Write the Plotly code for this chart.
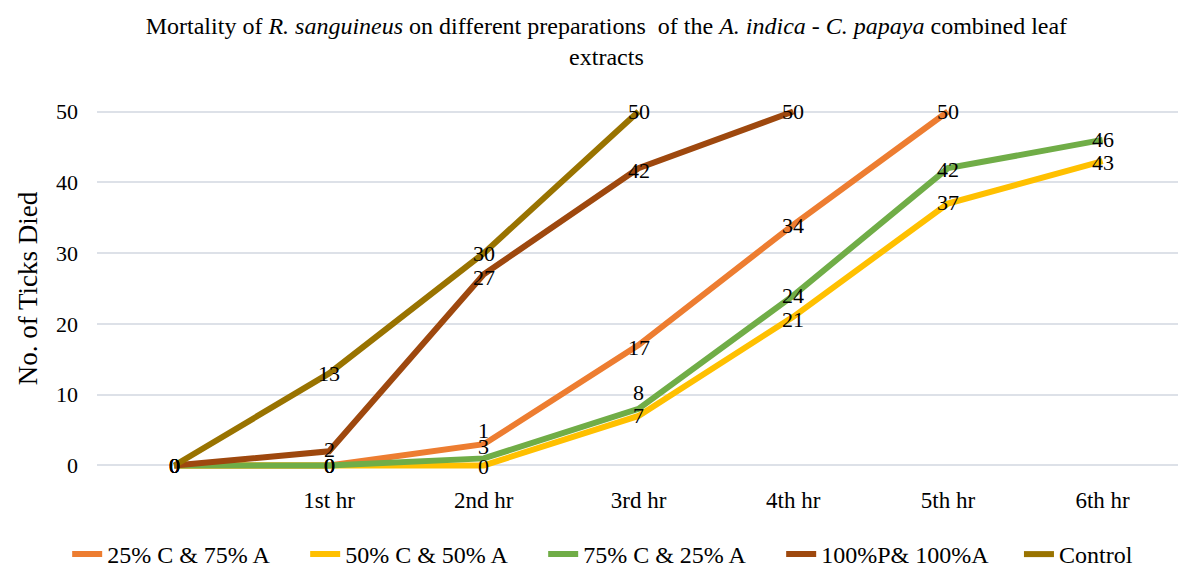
import plotly.graph_objects as go

categories = ["", "1st hr", "2nd hr", "3rd hr", "4th hr", "5th hr", "6th hr"]

series_names = ["25% C & 75% A", "50% C & 50% A", "75% C & 25% A", "100%P& 100%A", "Control"]
s25 = [0, 0, 3, 17, 34, 50]
s50 = [0, 0, 0, 7, 21, 37, 43]
s75 = [0, 0, 1, 8, 24, 42, 46]
s100 = [0, 2, 27, 42, 50]
control = [0, 13, 30, 50]
series_values = [s25, s50, s75, s100, control]

colors = ["#ED7D31", "#FFC000", "#70AD47", "#9E480E", "#997300"]
legend_ids = ["legend", "legend", "legend", "legend", "legend2"]
# label vertical pixel shifts (styling only)
label_shifts = [
    [0, 0, -2, -2, -1, 0],
    [0, 0, -1, 0, -3, 1, -1],
    [0, 0, 28, 16, 0, -1, 0],
    [0, 2, -3, -2, 0],
    [0, 0, 0, 0],
]

FONT = "Liberation Serif"

fig = go.Figure()
annotations = []
for name, vals, col, shifts, lg in zip(series_names, series_values, colors, label_shifts, legend_ids):
    xs = list(range(len(vals)))
    fig.add_trace(go.Scatter(
        x=xs, y=vals, name=name, mode="lines",
        line=dict(color=col, width=6), legend=lg,
    ))
    for xi, v, sh in zip(xs, vals, shifts):
        annotations.append(dict(
            x=xi, y=v, xref="x", yref="y", text=str(v), showarrow=False,
            yshift=sh, font=dict(family=FONT, size=22, color="#000000"),
        ))

legend_common = dict(
    orientation="h", yref="container", y=0.0676, yanchor="top",
    font=dict(family=FONT, size=24, color="#000000"),
    itemwidth=30, tracegroupgap=0,
    bgcolor="rgba(0,0,0,0)",
)

fig.update_layout(
    width=1178, height=562,
    paper_bgcolor="white", plot_bgcolor="white",
    margin=dict(l=89, r=6, t=100, b=101),
    title=dict(
        text="Mortality of <i>R. sanguineus</i> on different preparations  of the <i>A. indica</i> - <i>C. papaya</i> combined leaf<br>extracts",
        x=0.508, xanchor="center", yref="container", y=0.9537, yanchor="top",
        font=dict(family=FONT, size=24, color="#000000"),
    ),
    font=dict(family=FONT, color="#000000"),
    xaxis=dict(
        range=[-0.5, 6.5],
        tickmode="array",
        tickvals=list(range(1, len(categories))),
        ticktext=categories[1:],
        showgrid=False, zeroline=False, showline=False,
        ticks="", ticklabelstandoff=15,
        tickfont=dict(family=FONT, size=23, color="#000000"),
    ),
    yaxis=dict(
        range=[-0.5, 50.5],
        tickvals=[0, 10, 20, 30, 40, 50],
        showgrid=True, gridcolor="#DDE1E8", gridwidth=2,
        zeroline=False, showline=False, ticks="",
        ticklabelstandoff=18,
        tickfont=dict(family=FONT, size=22, color="#000000"),
        title=dict(text="No. of Ticks Died", standoff=10,
                   font=dict(family=FONT, size=27, color="#000000")),
    ),
    legend=dict(x=0.8515, xanchor="right", entrywidth=193, **legend_common),
    legend2=dict(x=0.8513, xanchor="left", **legend_common),
    annotations=annotations,
    showlegend=True,
)

fig.write_html("out.html")
